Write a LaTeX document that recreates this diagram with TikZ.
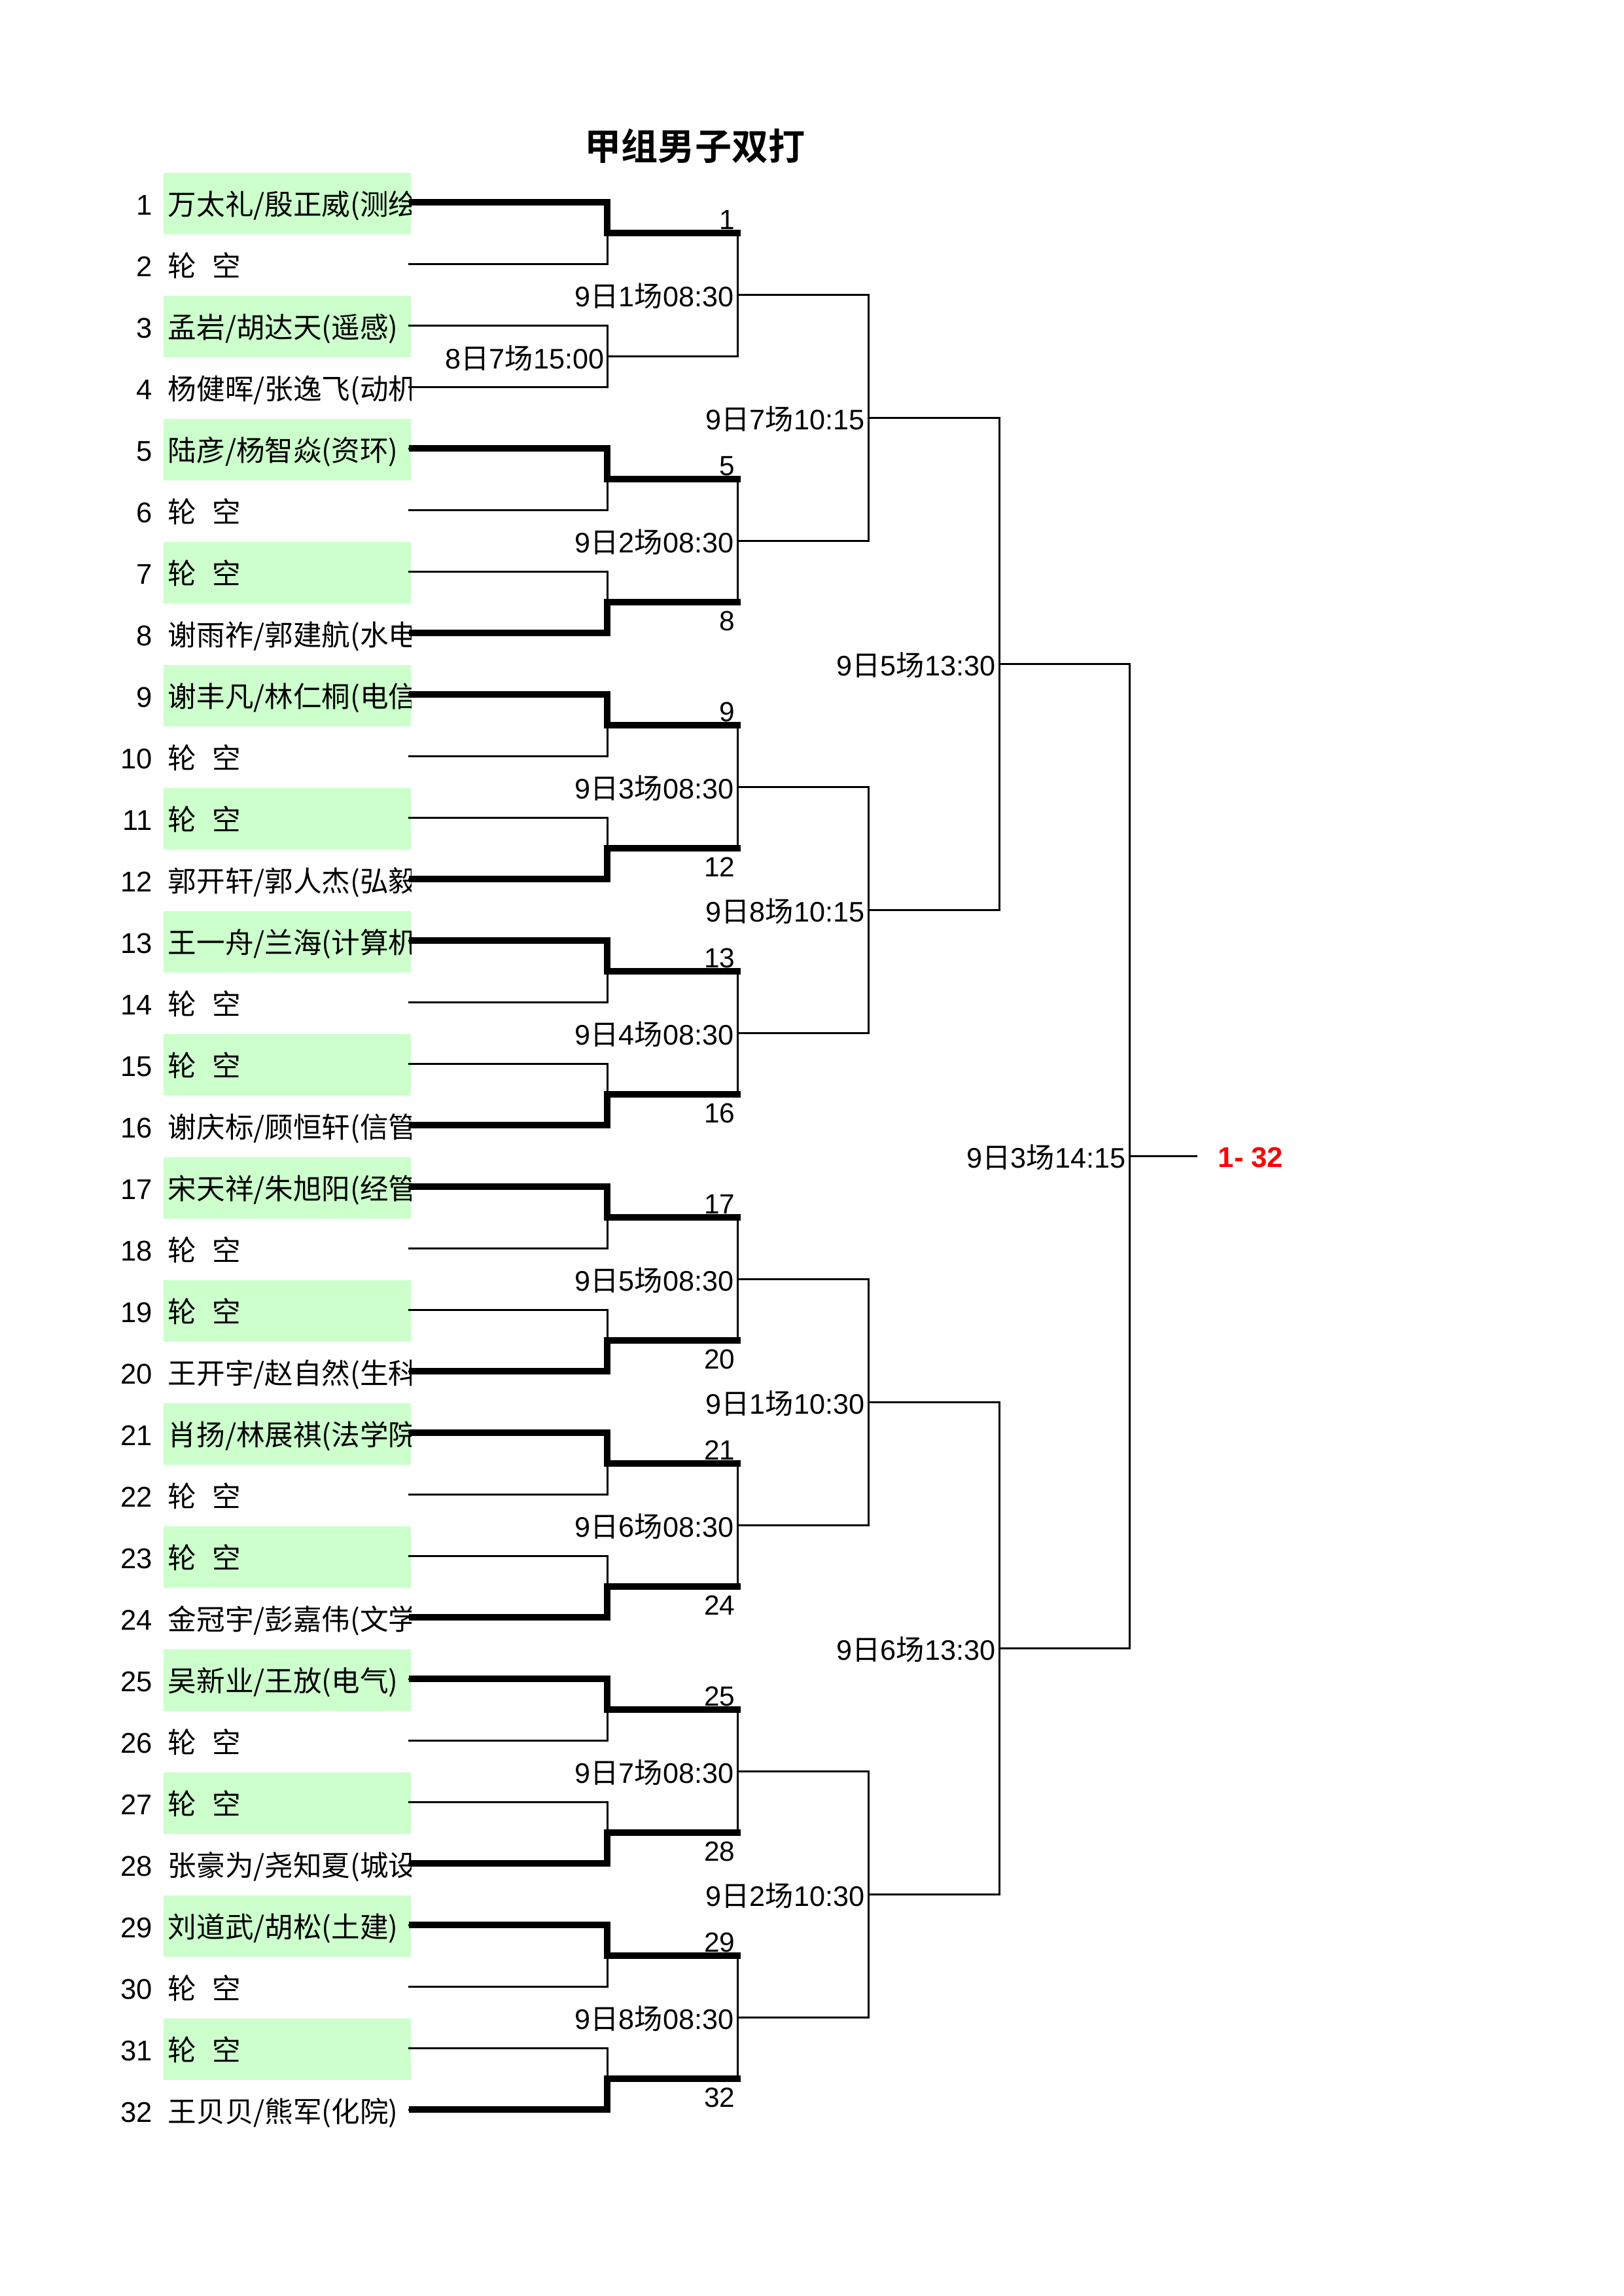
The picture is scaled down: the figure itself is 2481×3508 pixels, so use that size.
\documentclass[tikz,border=0pt]{standalone}
\usepackage{fontspec}
\setmainfont{Liberation Sans}
\newfontfamily\cjk{Noto Sans CJK SC}[BoldFont=Noto Sans CJK SC Bold]
\definecolor{cellgreen}{HTML}{CCFFCC}
\definecolor{winred}{HTML}{FF0000}
\newcommand{\playerrow}[2]{%
  \pgfmathsetmacro\rowy{309+94*(#1-1)}%
  \node[rownum] (n#1) at (234,\rowy+19) {#1};
  \begin{scope}
    \clip (250,\rowy-50) rectangle (628,\rowy+50);
    \node[pname] (p#1) at (256,\rowy+19) {#2};
  \end{scope}
}
\newcommand{\bye}{轮\hspace{0.55em}空}
\begin{document}
\begin{tikzpicture}[x=0.0846414mm,y=-0.0846414mm,
  thinl/.style={line width=0.72pt, line cap=rect, line join=miter},
  thickl/.style={line width=2.4pt, line join=miter},
  rownum/.style={anchor=base east, inner sep=0pt, font=\fontsize{10.5}{12}\selectfont},
  pname/.style={anchor=base west, inner sep=0pt, font=\cjk\fontsize{10.5}{12}\selectfont},
  mlabel/.style={anchor=base east, inner sep=0pt, font=\fontsize{10.4}{12}\selectfont},
  seednum/.style={inner sep=0pt, font=\fontsize{10.2}{12}\selectfont},
  ]
\useasboundingbox (0,0) rectangle (2481,3508);
\fill[white] (0,0) rectangle (2481,3508);

% title
\node[anchor=base, inner sep=0pt, font=\cjk\bfseries\fontsize{13.5}{16}\selectfont] (title) at (1062,244) {甲组男子双打};

% green cells
\foreach \i in {1,3,...,31} {
  \fill[cellgreen] (250,{264+94*(\i-1)}) rectangle (628,{358+94*(\i-1)});
}

% players
\playerrow{1}{万太礼/殷正威(测绘}
\playerrow{2}{\bye}
\playerrow{3}{孟岩/胡达天(遥感)}
\playerrow{4}{杨健晖/张逸飞(动机}
\playerrow{5}{陆彦/杨智焱(资环)}
\playerrow{6}{\bye}
\playerrow{7}{\bye}
\playerrow{8}{谢雨祚/郭建航(水电}
\playerrow{9}{谢丰凡/林仁桐(电信}
\playerrow{10}{\bye}
\playerrow{11}{\bye}
\playerrow{12}{郭开轩/郭人杰(弘毅}
\playerrow{13}{王一舟/兰海(计算机}
\playerrow{14}{\bye}
\playerrow{15}{\bye}
\playerrow{16}{谢庆标/顾恒轩(信管}
\playerrow{17}{宋天祥/朱旭阳(经管}
\playerrow{18}{\bye}
\playerrow{19}{\bye}
\playerrow{20}{王开宇/赵自然(生科}
\playerrow{21}{肖扬/林展祺(法学院}
\playerrow{22}{\bye}
\playerrow{23}{\bye}
\playerrow{24}{金冠宇/彭嘉伟(文学}
\playerrow{25}{吴新业/王放(电气)}
\playerrow{26}{\bye}
\playerrow{27}{\bye}
\playerrow{28}{张豪为/尧知夏(城设}
\playerrow{29}{刘道武/胡松(土建)}
\playerrow{30}{\bye}
\playerrow{31}{\bye}
\playerrow{32}{王贝贝/熊军(化院)}

% first round (type: 0 match, 1 top wins, 2 bottom wins)
\foreach \k/\t in {1/1,2/0,3/1,4/2,5/1,6/2,7/1,8/2,9/1,10/2,11/1,12/2,13/1,14/2,15/1,16/2} {
  \pgfmathsetmacro\ya{309+94*(2*\k-2)}
  \pgfmathsetmacro\yb{\ya+94}
  \pgfmathsetmacro\jy{\ya+47}
  \pgfmathtruncatemacro\na{2*\k-1}
  \pgfmathtruncatemacro\nb{2*\k}
  \coordinate (ra\k) at (625,\ya);
  \coordinate (rb\k) at (625,\yb);
  \coordinate (j1-\k) at (928,\jy);
  \coordinate (e1-\k) at (1127,\jy);
  \draw[thinl] (ra\k) -| (j1-\k);
  \draw[thinl] (rb\k) -| (j1-\k);
  \draw[thinl] (j1-\k) -- (e1-\k);
  \ifnum\t=1
    \draw[thickl] (ra\k) -| (j1-\k) -- (1132,\jy);
    \node[seednum, anchor=base east] (w\k) at (1124,\jy-6) {\na};
  \fi
  \ifnum\t=2
    \draw[thickl] (rb\k) -| (j1-\k) -- (1132,\jy);
    \node[seednum, anchor=north east] (w\k) at (1124,\jy+13) {\nb};
  \fi
}

% later rounds
\foreach \L/\xa/\xb/\n in {2/1127/1327/8, 3/1327/1527/4, 4/1527/1726/2, 5/1726/1828/1} {
  \foreach \g in {1,...,\n} {
    \pgfmathsetmacro\s{2^\L}
    \pgfmathsetmacro\jy{309+94*((\g-1)*\s+(\s-1)/2)}
    \pgfmathsetmacro\ja{309+94*((\g-1)*\s+(\s/2-1)/2)}
    \pgfmathsetmacro\jb{\ja+94*\s/2}
    \coordinate (j\L-\g) at (\xa,\jy);
    \coordinate (e\L-\g) at (\xb,\jy);
    \draw[thinl] (\xa,\ja) -- (\xa,\jb);
    \draw[thinl] (j\L-\g) -- (e\L-\g);
  }
}

% match labels
\node[mlabel] (m1) at (924,563) {8{\cjk 日}7{\cjk 场}15:00};
\foreach \g in {1,...,8} {
  \pgfmathsetmacro\jy{309+94*((\g-1)*4+1.5)}
  \node[mlabel] (mm\g) at (1122,\jy+18) {9{\cjk 日}\g{\cjk 场}08:30};
}
\node[mlabel] (q1) at (1322,{638+18}) {9{\cjk 日}7{\cjk 场}10:15};
\node[mlabel] (q2) at (1322,{1390+18}) {9{\cjk 日}8{\cjk 场}10:15};
\node[mlabel] (q3) at (1322,{2142+18}) {9{\cjk 日}1{\cjk 场}10:30};
\node[mlabel] (q4) at (1322,{2894+18}) {9{\cjk 日}2{\cjk 场}10:30};
\node[mlabel] (s1) at (1522,{1014+18}) {9{\cjk 日}5{\cjk 场}13:30};
\node[mlabel] (s2) at (1522,{2518+18}) {9{\cjk 日}6{\cjk 场}13:30};
\node[mlabel] (f1) at (1721,{1766+18}) {9{\cjk 日}3{\cjk 场}14:15};

% champion
\node[anchor=base west, inner sep=0pt, font=\bfseries\fontsize{10.5}{12}\selectfont, text=winred] (champ) at (1861,1783) {1- 32};
\end{tikzpicture}
\end{document}
